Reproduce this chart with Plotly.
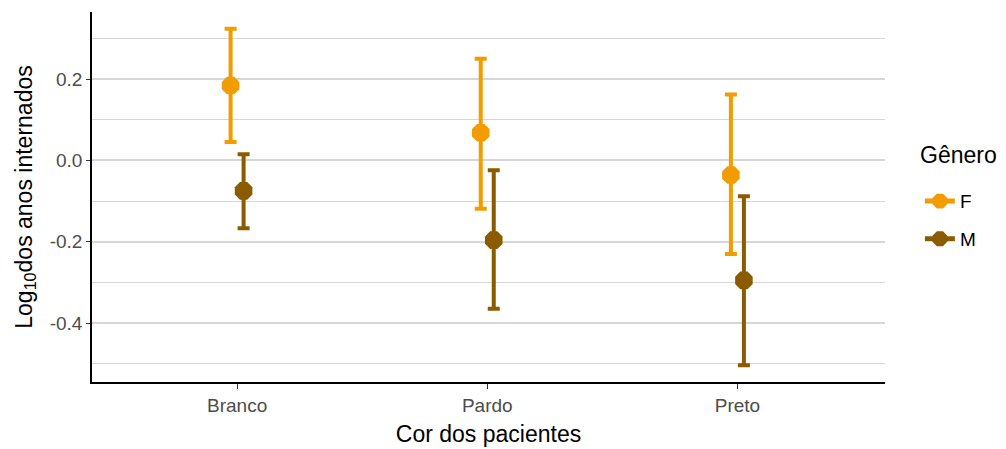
import plotly.graph_objects as go

categorias = ["Branco", "Pardo", "Preto"]
generos = ["F", "M"]
media_F = [0.184, 0.068, -0.036]
sup_F = [0.324, 0.250, 0.162]
inf_F = [0.045, -0.119, -0.230]
media_M = [-0.075, -0.196, -0.295]
sup_M = [0.015, -0.024, -0.088]
inf_M = [-0.167, -0.365, -0.504]
cores = {"F": "#F29C00", "M": "#8B5B00"}
dodge = {"F": -0.026, "M": 0.026}

fig = go.Figure()
dados = {"F": (media_F, sup_F, inf_F), "M": (media_M, sup_M, inf_M)}
for g in generos:
    m, s, i = dados[g]
    xs = [k + dodge[g] for k in range(len(categorias))]
    fig.add_trace(go.Scatter(
        x=xs, y=m, mode="markers", name=g, showlegend=False,
        marker=dict(color=cores[g], size=19, symbol="octagon", line=dict(width=0)),
        error_y=dict(type="data", symmetric=False,
                     array=[a - b for a, b in zip(s, m)],
                     arrayminus=[b - c for b, c in zip(m, i)],
                     color=cores[g], thickness=4, width=6),
    ))
    fig.add_trace(go.Scatter(
        x=[None], y=[None], mode="lines+markers", name=g, legendgroup=g,
        line=dict(color=cores[g], width=5),
        marker=dict(color=cores[g], size=19, symbol="octagon"),
    ))

# white vertical major x grid over the grey horizontal lines
for k in range(len(categorias)):
    fig.add_shape(type="line", xref="x", yref="paper", x0=k, x1=k, y0=0, y1=1,
                  line=dict(color="white", width=1.5), layer="between")

fig.add_annotation(text="Gênero", xref="paper", yref="paper", x=1.041, y=0.6135,
                   xanchor="left", yanchor="middle", showarrow=False,
                   font=dict(size=23, color="#000"))

fig.update_layout(
    width=1006, height=449,
    margin=dict(l=92, r=121, t=12, b=67, autoexpand=False),
    plot_bgcolor="white", paper_bgcolor="white",
    font=dict(family="Liberation Sans, Arial, sans-serif", color="#000000"),
    legend=dict(x=1.044, xanchor="left", y=0.54, yanchor="top",
                font=dict(size=19, color="#000"), itemsizing="trace",
                tracegroupgap=10),
)
fig.update_xaxes(
    range=[-0.58, 2.59], tickmode="array", tickvals=list(range(len(categorias))),
    ticktext=categorias, showgrid=False, zeroline=False, automargin=False,
    showline=True, linecolor="#000", linewidth=1.5,
    ticks="outside", ticklen=5, tickcolor="#333", tickwidth=1.2,
    tickfont=dict(size=19, color="#4d4d4d"),
    title=dict(text="Cor dos pacientes", font=dict(size=23, color="#000"), standoff=11),
)
fig.update_yaxes(
    range=[-0.545, 0.365], tickvals=[0.2, 0.0, -0.2, -0.4],
    ticktext=["0.2", "0.0", "-0.2", "-0.4"], automargin=False,
    showgrid=True, gridcolor="#d6d6d6", gridwidth=1.5, zeroline=False,
    minor=dict(tickvals=[0.3, 0.1, -0.1, -0.3, -0.5], showgrid=True,
               gridcolor="#d6d6d6", gridwidth=1.3),
    showline=True, linecolor="#000", linewidth=1.5,
    ticks="outside", ticklen=4, tickcolor="#333", tickwidth=1.2,
    tickfont=dict(size=19, color="#4d4d4d"),
    title=dict(text="Log<sub>10</sub>dos anos internados", font=dict(size=23, color="#000"), standoff=11),
)

fig.write_html("out.html", config={"displayModeBar": False},
               post_script="document.body.style.margin='0';")
